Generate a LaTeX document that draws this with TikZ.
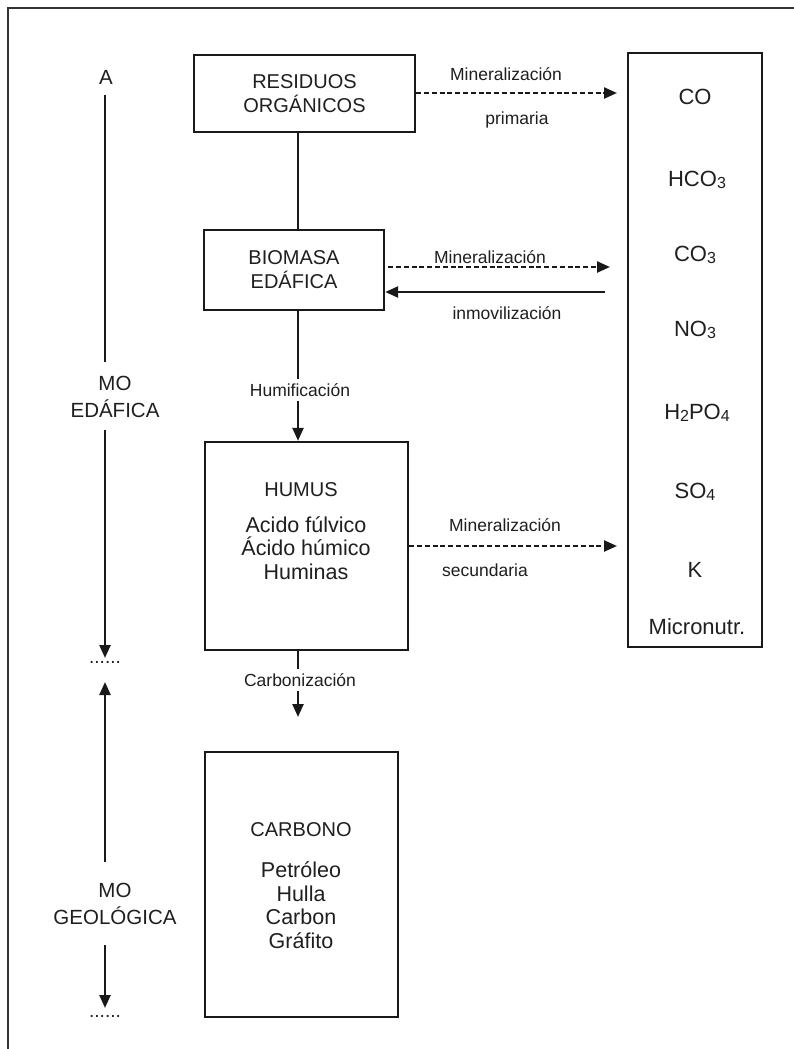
\documentclass[tikz,border=0pt]{standalone}
\usepackage{fontspec}
\setmainfont{Liberation Sans}[Ligatures={NoCommon}]
\usetikzlibrary{arrows.meta}
\newcommand\subs[1]{\raisebox{-0.12ex}{\fontsize{16}{16}\selectfont #1}}
\begin{document}
\begin{tikzpicture}[x=1pt,y=-1pt,
  box/.style={draw=black!90,line width=2.4pt,inner sep=0pt},
  big/.style={font=\fontsize{20}{24}\selectfont,text=black!88,align=center},
  side/.style={font=\fontsize{20.5}{27}\selectfont,text=black!88,align=center},
  mid/.style={font=\fontsize{21.5}{23.5}\selectfont,text=black!88,align=center},
  ion/.style={font=\fontsize{22}{24}\selectfont,text=black!88,align=center},
  lab/.style={font=\fontsize{17.5}{20}\selectfont,text=black!88,align=center},
  con/.style={draw=black!90,line width=2.4pt},
  arr/.style={con,-{Triangle[length=13pt,width=11pt]}},
  darr/.style={arr,dash pattern=on 5pt off 2.8pt},
  dotsn/.style={font=\fontsize{19}{19}\selectfont,text=black!88,inner sep=0pt}]
\useasboundingbox (0,0) rectangle (794,1049);
\fill[white] (0,0) rectangle (794,1049);
% frame
\draw[draw=black!80,line width=2.6pt] (8,1049) -- (8,8) -- (794,8);
% boxes
\node[box,minimum width=221pt,minimum height=77pt,big] (res) at (304.5,93.5) {RESIDUOS\\ORGÁNICOS};
\node[box,minimum width=180pt,minimum height=80pt,big] (bio) at (294,270) {BIOMASA\\EDÁFICA};
\node[box,minimum width=203pt,minimum height=208pt] (hum) at (306.5,546) {};
\node[big] (humt) at (301,490) {HUMUS};
\node[mid] (humtxt) at (306,548) {Acido fúlvico\\Ácido húmico\\Huminas};
\node[box,minimum width=193pt,minimum height=265pt] (carb) at (301.5,884.5) {};
\node[big] (carbt) at (301,830) {CARBONO};
\node[mid] (carbtxt) at (301,905) {Petróleo\\Hulla\\Carbon\\Gráfito};
\node[box,minimum width=134pt,minimum height=594pt] (min) at (695,350) {};
\node[ion] (co) at (695,97) {CO};
\node[ion] (hco) at (697,180) {HCO\subs{3}};
\node[ion] (cot) at (695,255) {CO\subs{3}};
\node[ion] (no) at (695,330) {NO\subs{3}};
\node[ion] (hpo) at (697,413) {H\subs{2}PO\subs{4}};
\node[ion] (so) at (695,492) {SO\subs{4}};
\node[ion] (k) at (695,570) {K};
\node[ion] (mic) at (697,627) {Micronutr.};
% left scale
\node[side] (a) at (106,77) {A};
\node[side] (moed) at (115,397) {MO\\EDÁFICA};
\node[side] (moge) at (115,904) {MO\\GEOLÓGICA};
\node[dotsn] (d1) at (105,662) {......};
\node[dotsn] (d2) at (105,1016) {......};
\coordinate (a1) at (105,95);
\coordinate (a2) at (105,362);
\coordinate (a3) at (105,430);
\coordinate (a4) at (105,658);
\coordinate (b1) at (105,682);
\coordinate (b2) at (105,862);
\coordinate (b3) at (105,945);
\coordinate (b4) at (105,1008);
\draw[con] (a1) -- (a2);
\draw[arr] (a3) -- (a4);
\draw[arr] (b2) -- (b1);
\draw[arr] (b3) -- (b4);
% vertical flow
\coordinate (vx) at (298,0);
\draw[con] (res.south -| vx) -- (bio.north -| vx);
\draw[arr] (bio.south -| vx) -- (hum.north -| vx);
\coordinate (ct) at (298,717);
\draw[arr] (hum.south -| vx) -- (ct);
\node[lab,fill=white,inner sep=4pt] (hl) at (300,390) {Humificación};
\node[lab,fill=white,inner sep=4pt] (cl) at (300,680) {Carbonización};
% horizontal flows
\coordinate (m1) at (617,93);
\draw[darr] (res.east |- m1) -- (m1);
\node[lab] (l1) at (506,74) {Mineralización};
\node[lab] (l2) at (517,120) {primaria};
\coordinate (m2) at (610,267);
\draw[darr] (bio.east |- m2) ++(3,0) -- (m2);
\coordinate (m3) at (605,292);
\draw[arr] (m3) -- (bio.east |- m3);
\node[lab] (l3) at (490,257) {Mineralización};
\node[lab] (l4) at (507,313) {inmovilización};
\coordinate (m4) at (617,546);
\draw[darr] (hum.east |- m4) -- (m4);
\node[lab] (l5) at (505,525) {Mineralización};
\node[lab] (l6) at (485,570) {secundaria};
\end{tikzpicture}
\end{document}
